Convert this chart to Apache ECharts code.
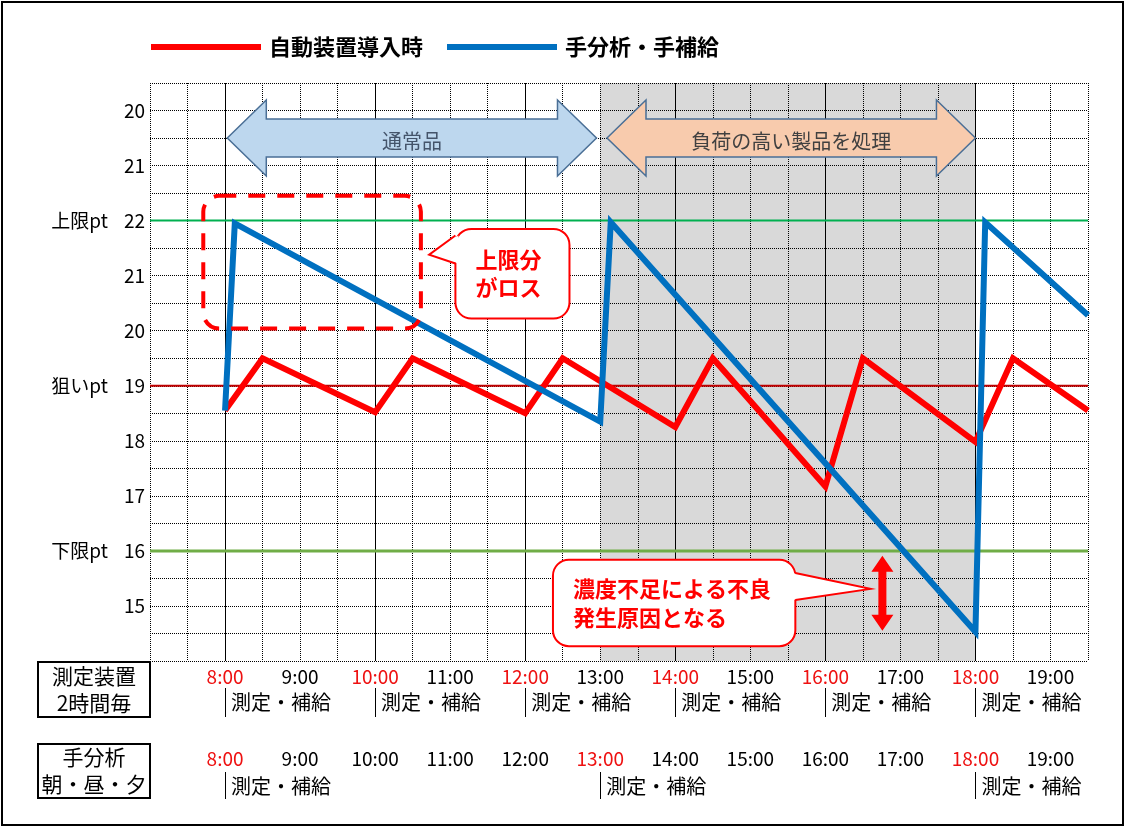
<!DOCTYPE html>
<html><head><meta charset="utf-8">
<script src="https://cdn.jsdelivr.net/npm/echarts@6/dist/echarts.min.js"></script>
<style>html,body{margin:0;padding:0;background:#fff}#c{width:1127px;height:828px}</style>
</head><body><div id="c"></div>
<script>
// ---- data ----
const autoTimes  = [8, 8.5, 10, 10.5, 12, 12.5, 14, 14.5, 16, 16.5, 18, 18.5, 19.5];
const autoValues = [18.55, 19.5, 18.52, 19.5, 18.5, 19.5, 18.25, 19.5, 17.17, 19.5, 17.98, 19.5, 18.55];
const manualTimes  = [8, 8.13, 13, 13.14, 18, 18.13, 19.5];
const manualValues = [18.55, 21.95, 18.35, 21.97, 14.53, 21.97, 20.28];
const upperLimit = 22;
const targetValue = 19;
const lowerLimit = 16;
const yTicks      = [15, 16, 17, 18, 19, 20, 21, 22, 23, 24];
const yTickLabels = ['15', '16', '17', '18', '19', '20', '21', '22', '21', '20'];
const yTickNotes  = ['', '下限pt', '', '', '狙いpt', '', '', '上限pt', '', ''];
const hourTicks  = [8, 9, 10, 11, 12, 13, 14, 15, 16, 17, 18, 19];
const hourLabels = ['8:00', '9:00', '10:00', '11:00', '12:00', '13:00', '14:00', '15:00', '16:00', '17:00', '18:00', '19:00'];
const autoMeasureTimes   = [8, 10, 12, 14, 16, 18];
const manualMeasureTimes = [8, 13, 18];
const heavyPeriod = [13, 18];
const majorGridTimes = [8, 10, 12, 14, 16, 18];
const seriesNames = ['自動装置導入時', '手分析・手補給'];
const measureText = '測定・補給';

// ---- chart ----
const FONT = '"Noto Sans CJK JP", "Noto Sans", sans-serif';
const chart = echarts.init(document.getElementById('c'), null, {renderer: 'canvas'});
const X_MIN = 7, X_MAX = 19.5, Y_MIN = 14, Y_MAX = 24.5;
const RED = '#ff0000', BLUE = '#0070c0', LABEL_RED = '#ee1111';
const dotted = {color: '#000', width: 1, type: [1, 1]};

function hourLabel(colorTimes) {
  return function (v) {
    const i = hourTicks.indexOf(v);
    if (i < 0) return '';
    return colorTimes.indexOf(v) >= 0 ? '{r|' + hourLabels[i] + '}' : '{k|' + hourLabels[i] + '}';
  };
}
const hourRich = {r: {color: LABEL_RED, fontSize: 19, fontFamily: FONT}, k: {color: '#000', fontSize: 19, fontFamily: FONT}};

function baseX(extra) {
  return Object.assign({type: 'value', min: X_MIN, max: X_MAX, interval: 0.5, position: 'bottom', gridIndex: 0,
    axisLine: {show: false}, axisTick: {show: false}, splitLine: {show: false}}, extra);
}

const option = {
  animation: false,
  backgroundColor: '#fff',
  textStyle: {fontFamily: FONT},
  grid: {left: 150, right: 39, top: 83, bottom: 167, containLabel: false, outerBoundsMode: 'none'},
  legend: {
    data: seriesNames, left: 146, top: 31, itemWidth: 110, itemHeight: 6, itemGap: 24, icon: 'rect',
    textStyle: {fontSize: 22, fontWeight: 'bold', color: '#000', fontFamily: FONT, padding: [0, 0, 0, 3]}
  },
  xAxis: [
    baseX({splitLine: {show: true, lineStyle: dotted},
      axisLabel: {formatter: hourLabel(autoMeasureTimes), rich: hourRich, margin: 6}}),
    baseX({offset: 82, axisLabel: {formatter: hourLabel(manualMeasureTimes), rich: hourRich, margin: 6}}),
    baseX({offset: 27,
      axisTick: {show: true, customValues: autoMeasureTimes, length: 29, lineStyle: {color: '#000', width: 1}},
      axisLabel: {customValues: autoMeasureTimes, formatter: () => measureText, align: 'left', margin: 4,
        padding: [0, 0, 0, 6], fontSize: 20, color: '#000', fontFamily: FONT}}),
    baseX({offset: 111,
      axisTick: {show: true, customValues: manualMeasureTimes, length: 27, lineStyle: {color: '#000', width: 1}},
      axisLabel: {customValues: manualMeasureTimes, formatter: () => measureText, align: 'left', margin: 4,
        padding: [0, 0, 0, 6], fontSize: 20, color: '#000', fontFamily: FONT}})
  ],
  yAxis: {
    type: 'value', min: Y_MIN, max: Y_MAX, interval: 0.5,
    axisLine: {show: false}, axisTick: {show: false},
    splitLine: {show: true, lineStyle: dotted},
    axisLabel: {
      margin: 5,
      formatter: function (v) {
        const i = yTicks.indexOf(v);
        if (i < 0) return '';
        return (yTickNotes[i] ? '{t|' + yTickNotes[i] + '}' : '') + '{n|' + yTickLabels[i] + '}';
      },
      rich: {
        t: {fontSize: 19, color: '#000', fontFamily: FONT, padding: [0, 16, 0, 0]},
        n: {fontSize: 19, color: '#000', fontFamily: FONT}
      }
    }
  },
  series: [
    {
      type: 'custom', name: 'heavy', z: -2, silent: true,
      data: [[heavyPeriod[0], heavyPeriod[1]]],
      renderItem: function (params, api) {
        const cs = params.coordSys;
        const x1 = api.coord([api.value(0), Y_MIN])[0];
        const x2 = api.coord([api.value(1), Y_MIN])[0];
        return {type: 'rect', shape: {x: x1, y: cs.y, width: x2 - x1, height: cs.height}, style: {fill: '#d9d9d9'}};
      }
    },
    {
      type: 'custom', name: 'major', z: -1, silent: true,
      data: majorGridTimes.map(t => [t, Y_MIN]),
      renderItem: function (params, api) {
        const cs = params.coordSys;
        const x = Math.round(api.coord([api.value(0), Y_MIN])[0]) + 0.5;
        return {type: 'line', shape: {x1: x, y1: cs.y, x2: x, y2: cs.y + cs.height}, style: {stroke: '#000', lineWidth: 1}};
      }
    },
    {type: 'line', name: 'upper', silent: true, showSymbol: false, data: [[X_MIN, upperLimit], [X_MAX, upperLimit]],
      lineStyle: {color: '#00b050', width: 2}},
    {type: 'line', name: 'target', silent: true, showSymbol: false, data: [[X_MIN, targetValue], [X_MAX, targetValue]],
      lineStyle: {color: '#c00000', width: 2}},
    {type: 'line', name: 'lower', silent: true, showSymbol: false, data: [[X_MIN, lowerLimit], [X_MAX, lowerLimit]],
      lineStyle: {color: '#70ad47', width: 3}},
    {type: 'line', name: seriesNames[0], showSymbol: false, color: RED,
      data: autoTimes.map((t, i) => [t, autoValues[i]]),
      lineStyle: {color: RED, width: 6, join: 'miter'}},
    {type: 'line', name: seriesNames[1], showSymbol: false, color: BLUE,
      data: manualTimes.map((t, i) => [t, manualValues[i]]),
      lineStyle: {color: BLUE, width: 6, join: 'miter'}}
  ]
};
chart.setOption(option);

// ---- annotations (anchored in data space) ----
const P = (x, y) => chart.convertToPixel({gridIndex: 0}, [x, y]);
function txt(x, y, text, o) {
  return Object.assign({type: 'text', z: 12, x: x, y: y, style: Object.assign({
    text: text, fontFamily: FONT, fontSize: 20, fill: '#000',
    align: 'center', textAlign: 'center', verticalAlign: 'middle', textVerticalAlign: 'middle'}, o || {})});
}
function hArrow(x1, x2, yc, fill, text, textColor) {
  const a = P(x1, yc), b = P(x2, yc);
  const L = a[0], R = b[0], C = a[1], h = 39, H = 38, S = 19;
  return [
    {type: 'polygon', z: 10, shape: {points: [[L, C], [L + h, C - H], [L + h, C - S], [R - h, C - S], [R - h, C - H], [R, C],
      [R - h, C + H], [R - h, C + S], [L + h, C + S], [L + h, C + H]]},
      style: {fill: fill, stroke: '#4a6f96', lineWidth: 1.5}},
    txt((L + R) / 2, C + 3, text, {fill: textColor, fontSize: 20})
  ];
}
function callout(box, tip, baseY, side, text, textOpt) {
  const tl = P(box[0], box[1]), br = P(box[2], box[3]);
  const t = P(tip[0], tip[1]);
  const b1 = P(box[0], baseY[0])[1], b2 = P(box[0], baseY[1])[1];
  const ex = side === 'left' ? tl[0] : br[0];
  const inset = side === 'left' ? 3 : -3;
  return [
    {type: 'rect', z: 10, shape: {x: tl[0], y: tl[1], width: br[0] - tl[0], height: br[1] - tl[1], r: 16},
      style: {fill: '#fff', stroke: RED, lineWidth: 2}},
    {type: 'polygon', z: 11, shape: {points: [[ex + inset, b1], t, [ex + inset, b2]]}, style: {fill: '#fff'}},
    {type: 'polyline', z: 11, shape: {points: [[ex, b1], t, [ex, b2]]}, style: {stroke: RED, lineWidth: 2, fill: null}},
    textOpt.align === 'left'
      ? txt(tl[0] + 20, (tl[1] + br[1]) / 2, text, textOpt)
      : txt((tl[0] + br[0]) / 2 - 4, (tl[1] + br[1]) / 2, text, textOpt)
  ];
}
function vArrow(x, y1, y2) {
  const a = P(x, y1), b = P(x, y2);
  const C = a[0], T = a[1], B = b[1], h = 16, H = 11, S = 4;
  return {type: 'polygon', z: 10, shape: {points: [[C, T], [C + H, T + h], [C + S, T + h], [C + S, B - h], [C + H, B - h], [C, B],
    [C - H, B - h], [C - S, B - h], [C - S, T + h], [C - H, T + h]]}, style: {fill: RED}};
}
const dtl = P(7.71, 22.45), dbr = P(10.61, 20.04);
const graphics = [].concat(
  hArrow(8.03, 12.95, 23.5, '#bdd7ee', '通常品', '#44546a'),
  hArrow(13.09, 18.0, 23.5, '#f8cbad', '負荷の高い製品を処理', '#404040'),
  [{type: 'rect', z: 9, shape: {x: dtl[0], y: dtl[1], width: dbr[0] - dtl[0], height: dbr[1] - dtl[1], r: 16},
    style: {fill: null, stroke: RED, lineWidth: 4, lineDash: [17, 12]}}],
  callout([11.07, 21.85, 12.59, 20.22], [10.72, 21.38], [21.73, 21.22], 'left', '上限分\nがロス',
    {fill: RED, fontWeight: 'bold', fontSize: 22, lineHeight: 28}),
  callout([12.37, 15.84, 15.6, 14.27], [16.6, 15.31], [15.6, 15.11], 'right', '濃度不足による不良\n発生原因となる',
    {fill: RED, fontWeight: 'bold', fontSize: 22, lineHeight: 29, align: 'left', textAlign: 'left'}),
  [vArrow(16.76, 15.91, 14.55)],
  [
    {type: 'rect', z: 5, shape: {x: 38, y: 662, width: 112, height: 55}, style: {fill: null, stroke: '#000', lineWidth: 2}},
    txt(94, 690, '測定装置\n2時間毎', {fontSize: 21, lineHeight: 27}),
    {type: 'rect', z: 5, shape: {x: 38, y: 744, width: 112, height: 54}, style: {fill: null, stroke: '#000', lineWidth: 2}},
    txt(94, 771, '手分析\n朝・昼・夕', {fontSize: 21, lineHeight: 27}),
    {type: 'rect', z: 5, shape: {x: 2, y: 2, width: 1121, height: 823}, style: {fill: null, stroke: '#000', lineWidth: 2}}
  ]
);
chart.setOption({graphic: {elements: graphics}});
</script>
</body></html>
